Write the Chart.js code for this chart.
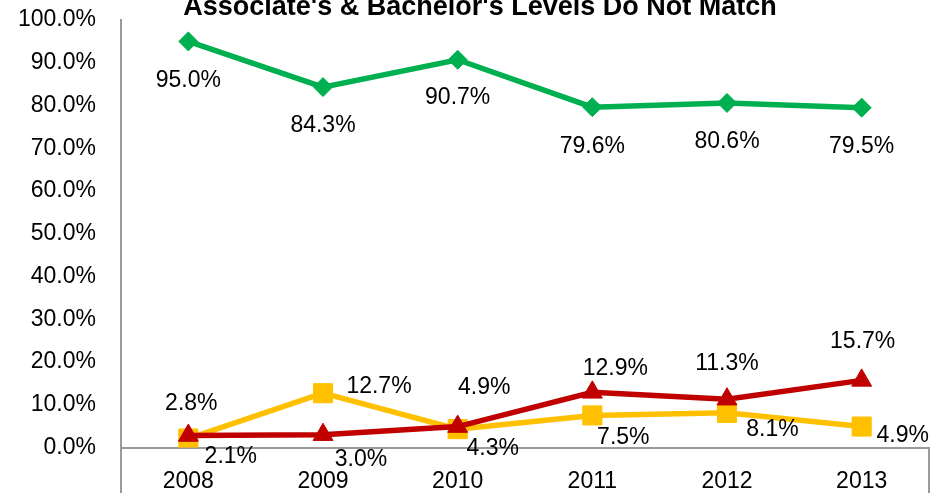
<!DOCTYPE html>
<html>
<head>
<meta charset="utf-8">
<script src="https://cdn.jsdelivr.net/npm/chart.js@4/dist/chart.umd.min.js"></script>
<style>
  html, body { margin: 0; padding: 0; background: #ffffff; overflow: hidden; }
  canvas { display: block; }
</style>
</head>
<body>
<canvas id="c" width="946" height="493"></canvas>
<script>
// ---------- data ----------
const TITLE = "Associate's & Bachelor's Levels Do Not Match";
const years = ['2008', '2009', '2010', '2011', '2012', '2013'];
const greenSeries = [95.0, 84.3, 90.7, 79.6, 80.6, 79.5];
const redSeries = [2.8, 3.0, 4.9, 12.9, 11.3, 15.7];
const yellowSeries = [2.1, 12.7, 4.3, 7.5, 8.1, 4.9];
const yTickValues = [0, 10, 20, 30, 40, 50, 60, 70, 80, 90, 100];

// data-label placement (pixel offsets from each point, as placed in the original)
const greenLabelOffsets = [[0, 39.5], [0, 39], [0, 37.5], [0, 39], [0, 39], [0, 39.5]];
const redLabelOffsets = [[3, -31.5], [38, 25], [26.5, -39], [23, -23.5], [0, -36], [1, -38.5]];
const yellowLabelOffsets = [[42.5, 18], [56, -7], [35, 19.5], [31, 22], [45.5, 17], [41, 9]];

const FONT = '"Liberation Sans", Arial, sans-serif';
const AXIS_COLOR = '#9a9a9a';

const titlePlugin = {
  id: 'cutTitle',
  afterDraw(chart) {
    const ctx = chart.ctx;
    ctx.save();
    ctx.font = 'bold 27px ' + FONT;
    ctx.fillStyle = '#000000';
    ctx.textAlign = 'center';
    ctx.textBaseline = 'alphabetic';
    ctx.fillText(TITLE, 480, 15);
    ctx.restore();
  }
};

const axisBoxPlugin = {
  id: 'axisBox',
  afterDraw(chart) {
    const { ctx, chartArea } = chart;
    ctx.save();
    ctx.strokeStyle = AXIS_COLOR;
    ctx.lineWidth = 2;
    ctx.beginPath();
    ctx.moveTo(chartArea.left, chartArea.bottom);
    ctx.lineTo(chartArea.left, chart.height);
    ctx.moveTo(chartArea.right, chartArea.bottom);
    ctx.lineTo(chartArea.right, chart.height);
    ctx.stroke();
    ctx.restore();
  }
};

const dataLabelPlugin = {
  id: 'dataLabels',
  afterDatasetsDraw(chart) {
    const ctx = chart.ctx;
    ctx.save();
    ctx.font = '23px ' + FONT;
    ctx.fillStyle = '#000000';
    ctx.textAlign = 'center';
    ctx.textBaseline = 'middle';
    chart.data.datasets.forEach((ds, i) => {
      const meta = chart.getDatasetMeta(i);
      meta.data.forEach((pt, j) => {
        const off = ds.labelOffsets[j];
        ctx.fillText(ds.data[j].toFixed(1) + '%', pt.x + off[0], pt.y + off[1]);
      });
    });
    ctx.restore();
  }
};

function lineSet(label, data, color, style, radius, offsets) {
  return {
    label: label,
    data: data,
    borderColor: color,
    backgroundColor: color,
    borderWidth: 5.5,
    tension: 0,
    pointStyle: style,
    pointRadius: radius,
    pointHoverRadius: radius,
    pointBackgroundColor: color,
    pointBorderColor: color,
    pointBorderWidth: 1,
    labelOffsets: offsets
  };
}

new Chart(document.getElementById('c'), {
  type: 'line',
  data: {
    labels: years,
    datasets: [
      lineSet('Series 1', greenSeries, '#00B050', 'rectRot', 9.5, greenLabelOffsets),
      lineSet('Series 2', redSeries, '#C00000', 'triangle', 11.5, redLabelOffsets),
      lineSet('Series 3', yellowSeries, '#FFC000', 'rect', 13.5, yellowLabelOffsets)
    ]
  },
  options: {
    responsive: false,
    animation: false,
    layout: { autoPadding: false, padding: { top: 20, right: 17, left: 0, bottom: 0 } },
    plugins: {
      legend: { display: false },
      tooltip: { enabled: false },
      title: { display: false }
    },
    scales: {
      x: {
        offset: true,
        grid: { display: false, drawTicks: false },
        border: { display: true, color: AXIS_COLOR, width: 2 },
        ticks: {
          color: '#000000',
          padding: 23,
          font: { family: FONT, size: 23, lineHeight: 1 },
          maxRotation: 0
        },
        afterFit(scale) { scale.height = 45.5; }
      },
      y: {
        min: 0,
        max: 100,
        grid: {
          display: true,
          drawOnChartArea: false,
          drawTicks: true,
          tickLength: 25,
          tickColor: 'rgba(0,0,0,0)',
          color: 'rgba(0,0,0,0)'
        },
        border: { display: true, color: AXIS_COLOR, width: 2 },
        afterBuildTicks(scale) { scale.ticks = yTickValues.map(v => ({ value: v })); },
        ticks: {
          color: '#000000',
          padding: 0,
          font: { family: FONT, size: 23, lineHeight: 1 },
          callback: v => v.toFixed(1) + '%'
        },
        afterFit(scale) { scale.width = 121; }
      }
    }
  },
  plugins: [titlePlugin, axisBoxPlugin, dataLabelPlugin]
});
</script>
</body>
</html>
